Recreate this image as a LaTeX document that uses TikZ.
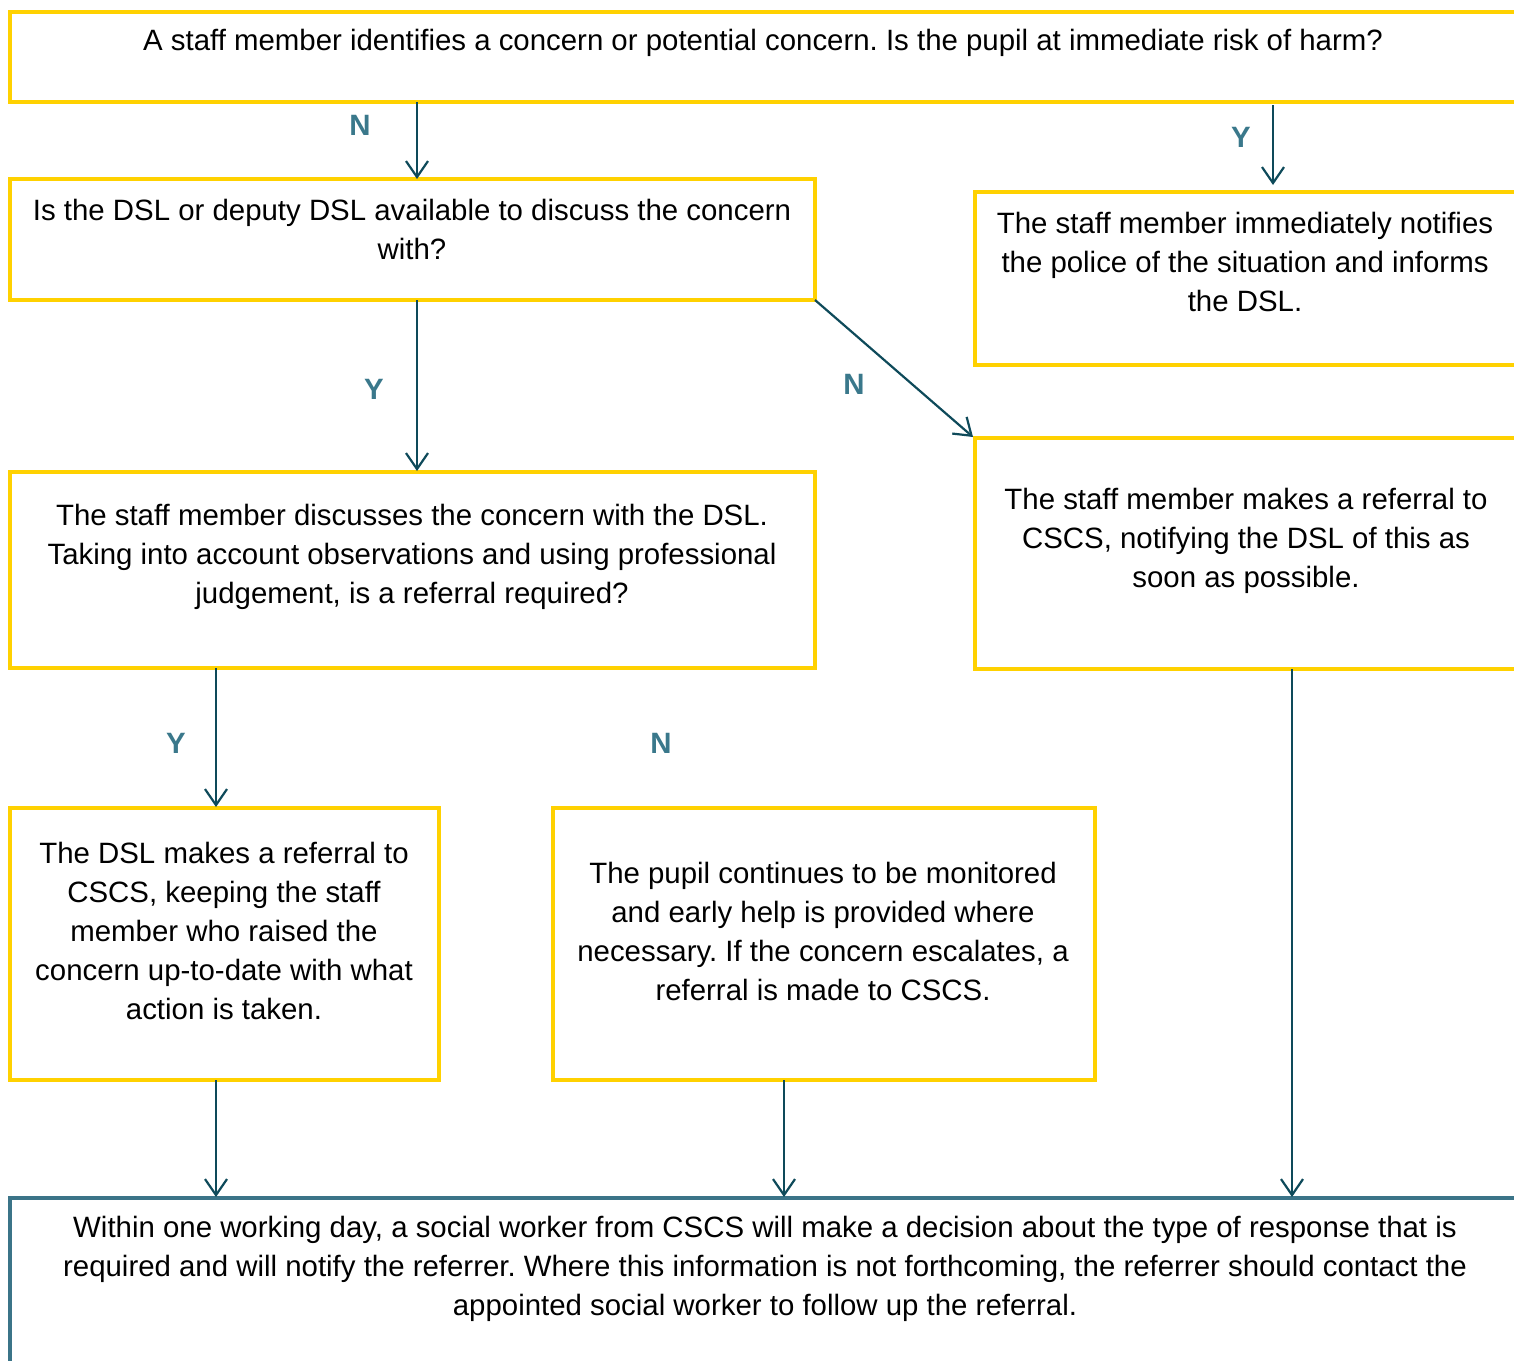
\documentclass[tikz,border=0pt]{standalone}
\usepackage{fontspec}
\setmainfont{Liberation Sans}
\usetikzlibrary{arrows.meta}
\definecolor{ybord}{HTML}{FFD100}
\definecolor{tbord}{HTML}{3B7488}
\definecolor{arr}{HTML}{0E4A5A}
\definecolor{lab}{HTML}{3A788B}
\frenchspacing
\begin{document}
\begin{tikzpicture}[x=0.5pt,y=-0.5pt,
  ybox/.style={draw=ybord,line width=2pt,rectangle,inner sep=0pt,outer sep=0pt,anchor=north west},
  tboxst/.style={draw=tbord,line width=2pt,rectangle,inner sep=0pt,outer sep=0pt,anchor=north west},
  txt/.style={align=center,inner sep=0pt,font=\fontsize{14.7}{19.5}\selectfont},
  yn/.style={text=lab,inner sep=0pt,font=\fontsize{14.7}{16}\selectfont\bfseries},
  conn/.style={draw=arr,line width=1.1pt,-{Straight Barb[length=8pt,width=11pt,line width=1.1pt]}}]
\useasboundingbox (0,0) rectangle (1514,1360);
\clip (0,0) rectangle (1514,1360);
% boxes
\node[ybox,minimum width=800pt,minimum height=90*0.5pt] (top) at (10,12) {};
\node[ybox,minimum width=805*0.5pt,minimum height=121*0.5pt] (b2) at (10,179) {};
\node[ybox,minimum width=560*0.5pt,minimum height=173*0.5pt] (r1) at (975,192) {};
\node[ybox,minimum width=805*0.5pt,minimum height=196*0.5pt] (b3) at (10,472) {};
\node[ybox,minimum width=560*0.5pt,minimum height=231*0.5pt] (r2) at (975,438) {};
\node[ybox,minimum width=429*0.5pt,minimum height=272*0.5pt] (b4) at (10,808) {};
\node[ybox,minimum width=542*0.5pt,minimum height=272*0.5pt] (b5) at (553,808) {};
\node[tboxst,minimum width=1530*0.5pt,minimum height=200*0.5pt] (bot) at (10,1198) {};
% texts
\node[txt] (ttop) at (763,43) {A staff member identifies a concern or potential concern. Is the pupil at immediate risk of harm?};
\node[txt] (tb2) at (412,229.5) {Is the DSL or deputy DSL available to discuss the concern\\with?};
\node[txt] (tr1) at (1245,262) {The staff member immediately notifies\\the police of the situation and informs\\the DSL.};
\node[txt] (tb3) at (412,557) {The staff member discusses the concern with the DSL.\\Taking into account observations and using professional\\judgement, is a referral required?};
\node[txt] (tr2) at (1246,541) {The staff member makes a referral to\\CSCS, notifying the DSL of this as\\soon as possible.};
\node[txt] (tb4) at (224,931) {The DSL makes a referral to\\CSCS, keeping the staff\\member who raised the\\concern up-to-date with what\\action is taken.};
\node[txt] (tb5) at (823,931) {The pupil continues to be monitored\\and early help is provided where\\necessary. If the concern escalates, a\\referral is made to CSCS.};
\node[txt] (tbot) at (765,1269) {Within one working day, a social worker from CSCS will make a decision about the type of response that is\\required and will notify the referrer. Where this information is not forthcoming, the referrer should contact the\\appointed social worker to follow up the referral.};
% labels
\node[yn] (l1) at (360,125) {N};
\node[yn] (l2) at (1241,137) {Y};
\node[yn] (l3) at (374,389) {Y};
\node[yn] (l4) at (854,384) {N};
\node[yn] (l5) at (176,743) {Y};
\node[yn] (l6) at (661,743) {N};
% connector endpoints
\coordinate (a1s) at (417,102); \coordinate (a1e) at (417,179);
\coordinate (a2s) at (1273,105); \coordinate (a2e) at (1273,185);
\coordinate (a3s) at (417,300); \coordinate (a3e) at (417,471);
\coordinate (a4e) at (973,437);
\coordinate (a5s) at (216,668); \coordinate (a5e) at (216,807);
\coordinate (a6s) at (1292,669); \coordinate (a6e) at (1292,1197);
\coordinate (a7s) at (216,1080); \coordinate (a7e) at (216,1197);
\coordinate (a8s) at (784,1080); \coordinate (a8e) at (784,1197);
\draw[conn] (a1s) -- (a1e);
\draw[conn] (a2s) -- (a2e);
\draw[conn] (a3s) -- (a3e);
\draw[conn] (b2.south east) -- (a4e);
\draw[conn] (a5s) -- (a5e);
\draw[conn] (a6s) -- (a6e);
\draw[conn] (a7s) -- (a7e);
\draw[conn] (a8s) -- (a8e);
\end{tikzpicture}
\end{document}
